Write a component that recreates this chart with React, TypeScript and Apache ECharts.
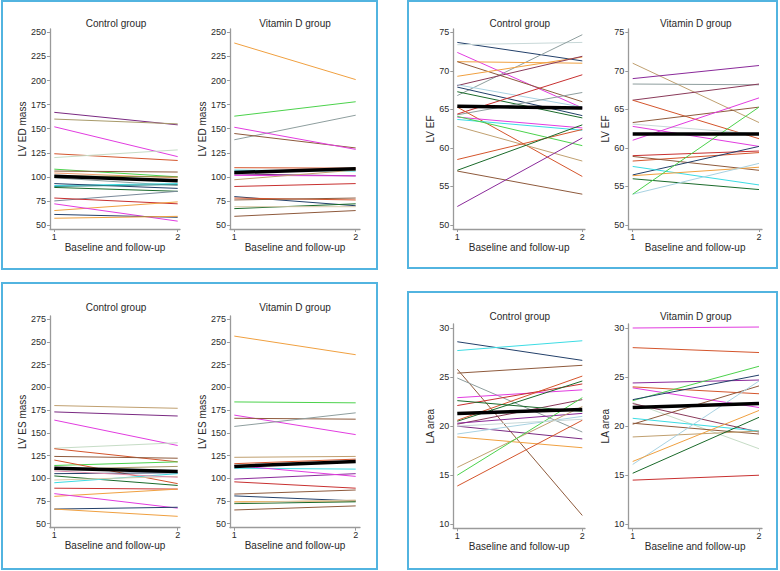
import React, { useEffect, useRef } from "react";
import * as echarts from "echarts";

// ---------------- DATA ----------------
const xCategories = [1, 2];
const xAxisTitle = "Baseline and follow-up";
const groupTitles = ["Control group", "Vitamin D group"];
const measureNames = ["LV ED mass", "LV EF", "LV ES mass", "LA area"];

const yTicksEd = [50, 75, 100, 125, 150, 175, 200, 225, 250];
const yTicksEf = [50, 55, 60, 65, 70, 75];
const yTicksEs = [50, 75, 100, 125, 150, 175, 200, 225, 250, 275];
const yTicksLa = [10, 15, 20, 25, 30];

// LV ED mass – control
const edCtrlBase = [167, 160, 152, 124, 120, 108, 106, 104, 101, 99, 91, 93, 90, 89, 75, 78, 65, 72, 61, 57];
const edCtrlFollow = [154, 155, 121, 117, 128, 100, 105, 99, 100, 91, 93, 88, 92, 85, 85, 72, 74, 54, 58, 59];
const edCtrlMean = [100.5, 96];
// LV ED mass – vitamin D
const edVitBase = [239, 163, 138.5, 145, 151.5, 109.5, 107, 103, 101.5, 97, 90, 79.5, 78, 76, 67, 69, 59];
const edVitFollow = [201, 178, 164, 130, 128.5, 109, 106, 101, 101, 107, 93, 70, 76, 78, 72, 69, 65];
const edVitMean = [104.5, 108.5];

// LV EF – control
const efCtrlBase = [73.7, 73.4, 66.8, 72.4, 71.2, 71.2, 69.3, 68.1, 68.2, 67.9, 67.3, 64.3, 64.4, 65.3, 64.0, 63.7, 64.1, 62.8, 58.5, 57.1, 57.0, 52.4];
const efCtrlFollow = [71.3, 73.7, 74.7, 65.2, 71.0, 66.0, 71.8, 71.9, 65.3, 64.2, 63.9, 67.2, 69.5, 56.3, 62.6, 62.3, 60.3, 58.3, 62.4, 63.0, 54.0, 61.3];
const efCtrlMean = [65.4, 65.2];
// LV EF – vitamin D
const efVitBase = [71.0, 69.0, 68.3, 66.2, 66.2, 63.3, 62.8, 63.1, 61.0, 59.0, 58.3, 58.9, 56.5, 57.6, 56.4, 56.0, 54.0, 54.0];
const efVitFollow = [63.3, 70.7, 68.2, 68.3, 61.2, 65.3, 60.2, 61.8, 66.5, 59.6, 59.4, 57.1, 60.2, 55.2, 57.5, 54.6, 58.0, 65.3];
const efVitMean = [61.8, 61.8];

// LV ES mass – control
const esCtrlBase = [180, 173, 164, 133, 132.5, 124, 114, 120, 110, 105, 102.5, 95, 98, 89, 80, 83, 66, 66, 108];
const esCtrlFollow = [177, 168.5, 136, 139, 118, 122, 118, 94, 113, 106, 92, 105, 102, 88, 88, 67, 68, 58, 101];
const esCtrlMean = [111, 107.5];
// LV ES mass – vitamin D
const esVitBase = [256.5, 184, 169.5, 166, 157, 123, 116, 111, 99, 114, 96, 82.5, 80.5, 74, 72, 73, 65];
const esVitFollow = [236, 183, 148, 165, 172, 124, 121, 110, 105, 102, 89, 87, 75, 75, 74, 76, 69.5];
const esVitMean = [113, 118.5];

// LA area – control
const laCtrlBase = [28.6, 27.7, 25.4, 25.8, 24.9, 22.9, 22.1, 20.5, 20.6, 20.2, 20.3, 20.0, 19.2, 18.9, 22.6, 15.8, 15.0, 13.9, 20.0];
const laCtrlFollow = [26.7, 28.7, 26.2, 10.9, 19.4, 23.7, 24.3, 24.6, 25.1, 22.7, 21.3, 18.7, 21.0, 17.8, 21.5, 22.0, 22.9, 20.6, 20.7];
const laCtrlMean = [21.3, 21.7];
// LA area – vitamin D
const laVitBase = [30.0, 28.0, 24.4, 23.9, 24.0, 22.6, 22.7, 22.4, 20.2, 22.3, 20.8, 20.3, 18.9, 16.1, 16.4, 15.2, 14.5];
const laVitFollow = [30.1, 27.5, 24.7, 21.9, 23.3, 26.1, 25.2, 17.7, 24.1, 19.4, 19.5, 19.2, 19.5, 24.6, 21.6, 20.9, 15.0];
const laVitMean = [21.9, 22.3];

// ---------------- STYLES ----------------
const C = {
  purple: "#7a2a82",
  olive: "#a89a6a",
  magenta: "#e23ce0",
  orangeRed: "#d4552c",
  paleGreen: "#c6dcc6",
  green: "#4cd24c",
  brown: "#8e5a3c",
  salmon: "#f0a070",
  darkOlive: "#8a8a40",
  gray: "#8e9e9e",
  cyan: "#3cdce4",
  navy: "#23406a",
  teal: "#2a8a8a",
  darkGreen: "#1a6a2a",
  steel: "#7a8a9a",
  red: "#c83030",
  orange: "#f0a040",
  tan: "#c0a070",
  paleTan: "#d8c8a8",
  lightBlue: "#a8d2e2",
  plum: "#8a3a5a",
  violet: "#8a2a9a",
  lightGray: "#c8d8d8",
  pink: "#e090b0",
};

const edCtrlColors = [C.purple, C.olive, C.magenta, C.orangeRed, C.paleGreen, C.green, C.brown, C.salmon, C.darkOlive, C.gray, C.cyan, C.navy, C.teal, C.darkGreen, C.steel, C.red, C.orange, C.magenta, C.navy, C.orange];
const edVitColors = [C.orange, C.green, C.gray, C.brown, C.magenta, C.orangeRed, C.cyan, C.purple, C.magenta, C.tan, C.red, C.navy, C.orangeRed, C.brown, C.darkGreen, C.paleTan, C.brown];
const efCtrlColors = [C.navy, C.lightGray, C.gray, C.magenta, C.orange, C.brown, C.orange, C.plum, C.lightBlue, C.navy, C.darkGreen, C.gray, C.red, C.orangeRed, C.magenta, C.cyan, C.green, C.tan, C.orangeRed, C.darkGreen, C.brown, C.violet];
const efVitColors = [C.tan, C.violet, C.gray, C.plum, C.orangeRed, C.brown, C.magenta, C.lightGray, C.magenta, C.red, C.orangeRed, C.brown, C.navy, C.cyan, C.orange, C.darkGreen, C.lightBlue, C.green];
const esCtrlColors = [C.tan, C.purple, C.magenta, C.paleGreen, C.orangeRed, C.brown, C.green, C.orangeRed, C.olive, C.navy, C.darkGreen, C.cyan, C.paleTan, C.red, C.orange, C.magenta, C.navy, C.orange, C.pink];
const esVitColors = [C.orange, C.green, C.magenta, C.brown, C.gray, C.tan, C.orangeRed, C.cyan, C.violet, C.magenta, C.red, C.brown, C.navy, C.orange, C.darkGreen, C.paleTan, C.brown];
const laCtrlColors = [C.navy, C.cyan, C.brown, C.brown, C.gray, C.magenta, C.red, C.darkGreen, C.orangeRed, C.plum, C.violet, C.purple, C.lightBlue, C.orange, C.darkGreen, C.tan, C.green, C.orangeRed, C.lightGray];
const laVitColors = [C.magenta, C.orangeRed, C.violet, C.magenta, C.orangeRed, C.green, C.navy, C.paleGreen, C.brown, C.plum, C.cyan, C.brown, C.tan, C.lightBlue, C.orange, C.darkGreen, C.red];

const FONT = "'Liberation Sans', Arial, Helvetica, sans-serif";
const AXIS_COLOR = "#9a9a9a";
const TEXT_COLOR = "#2a2a2a";
const FRAME_COLOR = "#52b4e0";

type Geom = {
  axisX: number; axisRight: number; axisTop: number; axisBottom: number;
  x1: number; x2: number; yTopPx: number; yBotPx: number; titleY: number; nameGapY: number;
};

const ROW1 = { axisTop: 29, axisBottom: 229, yTopPx: 32.4, yBotPx: 225, titleY: 23 };
const COLS = [
  { axisX: 50, axisRight: 180, x1: 54.3, x2: 177.7, nameGapY: 22 },
  { axisX: 230, axisRight: 360, x1: 234.3, x2: 355.7, nameGapY: 22 },
  { axisX: 453.3, axisRight: 585, x1: 457.3, x2: 582.3, nameGapY: 18 },
  { axisX: 628.3, axisRight: 762, x1: 632.7, x2: 759, nameGapY: 18 },
];

const panels = [
  { base: edCtrlBase, follow: edCtrlFollow, mean: edCtrlMean, colors: edCtrlColors, ticks: yTicksEd, name: measureNames[0], title: groupTitles[0], g: { ...COLS[0], ...ROW1 } },
  { base: edVitBase, follow: edVitFollow, mean: edVitMean, colors: edVitColors, ticks: yTicksEd, name: measureNames[0], title: groupTitles[1], g: { ...COLS[1], ...ROW1 } },
  { base: efCtrlBase, follow: efCtrlFollow, mean: efCtrlMean, colors: efCtrlColors, ticks: yTicksEf, name: measureNames[1], title: groupTitles[0], g: { ...COLS[2], ...ROW1 } },
  { base: efVitBase, follow: efVitFollow, mean: efVitMean, colors: efVitColors, ticks: yTicksEf, name: measureNames[1], title: groupTitles[1], g: { ...COLS[3], ...ROW1 } },
  { base: esCtrlBase, follow: esCtrlFollow, mean: esCtrlMean, colors: esCtrlColors, ticks: yTicksEs, name: measureNames[2], title: groupTitles[0], g: { ...COLS[0], axisTop: 316, axisBottom: 527.7, yTopPx: 319.3, yBotPx: 523.6, titleY: 307.7 } },
  { base: esVitBase, follow: esVitFollow, mean: esVitMean, colors: esVitColors, ticks: yTicksEs, name: measureNames[2], title: groupTitles[1], g: { ...COLS[1], axisTop: 316, axisBottom: 527.7, yTopPx: 319.3, yBotPx: 523.6, titleY: 307.7 } },
  { base: laCtrlBase, follow: laCtrlFollow, mean: laCtrlMean, colors: laCtrlColors, ticks: yTicksLa, name: measureNames[3], title: groupTitles[0], g: { ...COLS[2], axisTop: 324, axisBottom: 528.3, yTopPx: 328, yBotPx: 524.3, titleY: 316.7 } },
  { base: laVitBase, follow: laVitFollow, mean: laVitMean, colors: laVitColors, ticks: yTicksLa, name: measureNames[3], title: groupTitles[1], g: { ...COLS[3], axisTop: 324, axisBottom: 528.3, yTopPx: 328, yBotPx: 524.3, titleY: 316.7 } },
];

const frames = [
  { x: 2, y: 1, w: 375, h: 268 },
  { x: 408, y: 1, w: 369, h: 267 },
  { x: 2, y: 283, w: 375, h: 286 },
  { x: 408, y: 292, w: 369, h: 277 },
];

function buildOption() {
  const grid: any[] = [];
  const xAxis: any[] = [];
  const yAxis: any[] = [];
  const series: any[] = [];
  const graphic: any[] = [];

  frames.forEach((f) => {
    graphic.push({
      type: "rect",
      shape: { x: f.x, y: f.y, width: f.w, height: f.h },
      style: { fill: "none", stroke: FRAME_COLOR, lineWidth: 2 },
      silent: true,
    });
  });

  panels.forEach((p, i) => {
    const g = p.g as Geom;
    const xPx = (g.x2 - g.x1) / (xCategories[1] - xCategories[0]);
    const xMin = xCategories[0] - (g.x1 - g.axisX) / xPx;
    const xMax = xCategories[1] + (g.axisRight - g.x2) / xPx;
    const vTop = p.ticks[p.ticks.length - 1];
    const vBot = p.ticks[0];
    const yPx = (g.yBotPx - g.yTopPx) / (vTop - vBot);
    const yMax = vTop + (g.yTopPx - g.axisTop) / yPx;
    const yMin = vBot - (g.axisBottom - g.yBotPx) / yPx;

    grid.push({
      left: g.axisX,
      top: g.axisTop,
      width: g.axisRight - g.axisX,
      height: g.axisBottom - g.axisTop,
      containLabel: false,
    });
    xAxis.push({
      type: "value",
      gridIndex: i,
      min: xMin,
      max: xMax,
      name: xAxisTitle,
      nameLocation: "middle",
      nameGap: 13,
      nameTextStyle: { fontFamily: FONT, fontSize: 10, color: TEXT_COLOR },
      axisLine: { show: true, onZero: false, lineStyle: { color: AXIS_COLOR, width: 1.3 } },
      axisTick: { show: true, length: 3, customValues: xCategories, lineStyle: { color: AXIS_COLOR } },
      axisLabel: {
        show: true,
        customValues: xCategories,
        margin: 3,
        fontFamily: FONT,
        fontSize: 9,
        color: TEXT_COLOR,
        formatter: (v: number) => String(Math.round(v)),
      },
      splitLine: { show: false },
    });
    yAxis.push({
      type: "value",
      gridIndex: i,
      min: yMin,
      max: yMax,
      name: p.name,
      nameLocation: "middle",
      nameGap: g.nameGapY,
      nameTextStyle: { fontFamily: FONT, fontSize: 10, color: TEXT_COLOR },
      axisLine: { show: true, onZero: false, lineStyle: { color: AXIS_COLOR, width: 1.3 } },
      axisTick: { show: true, length: 3, customValues: p.ticks, lineStyle: { color: AXIS_COLOR } },
      axisLabel: {
        show: true,
        customValues: p.ticks,
        margin: 4,
        fontFamily: FONT,
        fontSize: 9,
        color: TEXT_COLOR,
        formatter: (v: number) => String(Math.round(v)),
      },
      splitLine: { show: false },
    });

    p.base.forEach((b, k) => {
      series.push({
        type: "line",
        xAxisIndex: i,
        yAxisIndex: i,
        data: [
          [xCategories[0], b],
          [xCategories[1], p.follow[k]],
        ],
        showSymbol: false,
        symbol: "none",
        silent: true,
        lineStyle: { color: p.colors[k % p.colors.length], width: 1 },
        z: 2,
      });
    });
    series.push({
      type: "line",
      xAxisIndex: i,
      yAxisIndex: i,
      data: [
        [xCategories[0], p.mean[0]],
        [xCategories[1], p.mean[1]],
      ],
      showSymbol: false,
      symbol: "none",
      silent: true,
      lineStyle: { color: "#000000", width: 3.5 },
      z: 5,
    });

    graphic.push({
      type: "text",
      x: (g.x1 + g.x2) / 2,
      y: g.titleY,
      style: {
        text: p.title,
        fontFamily: FONT,
        fontSize: 10,
        fill: TEXT_COLOR,
        textAlign: "center",
        textVerticalAlign: "middle",
      },
      silent: true,
    });
  });

  return {
    animation: false,
    backgroundColor: "#ffffff",
    grid,
    xAxis,
    yAxis,
    series,
    graphic,
  };
}

export default function App() {
  const ref = useRef<HTMLDivElement | null>(null);
  useEffect(() => {
    if (!ref.current) return;
    const chart = echarts.init(ref.current, undefined, { renderer: "svg" });
    chart.setOption(buildOption() as any);
    return () => chart.dispose();
  }, []);
  return (
    <div
      ref={ref}
      style={{ position: "absolute", left: 0, top: 0, width: 780, height: 571, background: "#fff" }}
    />
  );
}
